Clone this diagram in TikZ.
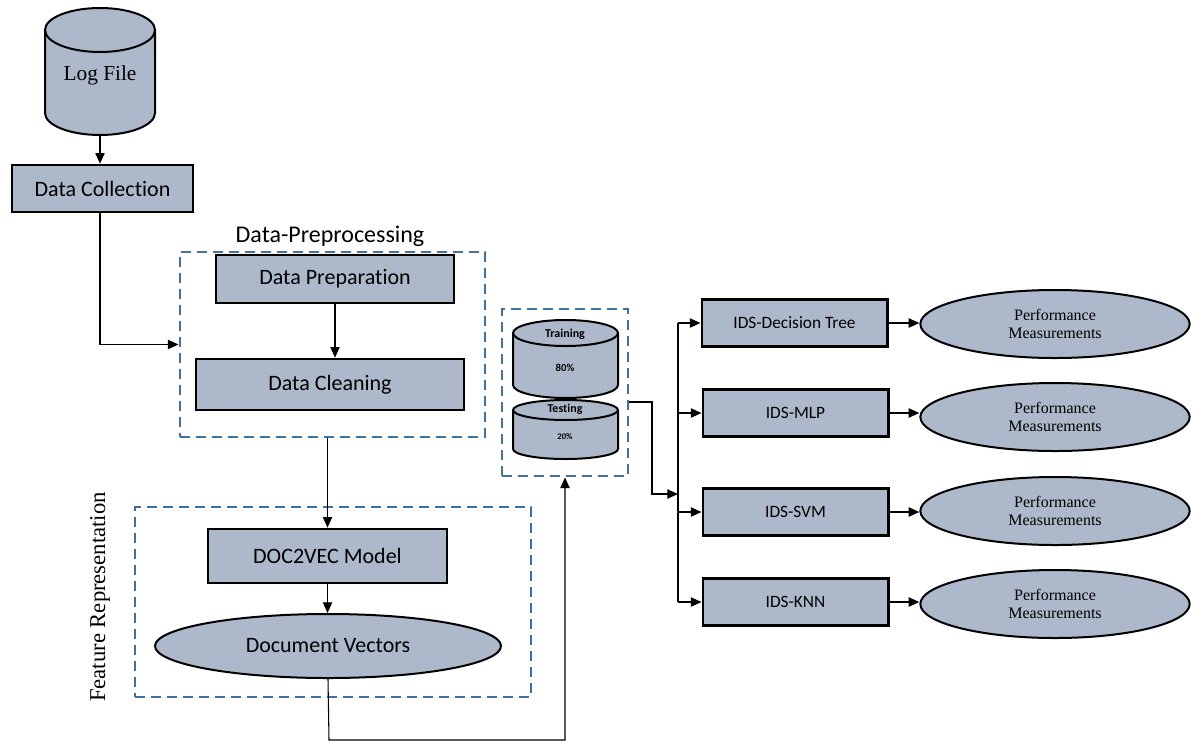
\documentclass[tikz,border=0pt]{standalone}
\usepackage{fontspec}
\setsansfont{Carlito}[Ligatures=NoCommon]
\setmainfont{Liberation Serif}
\usetikzlibrary{arrows.meta,shapes.geometric}
\definecolor{cfill}{HTML}{ADB9CA}
\definecolor{cdash}{HTML}{41719C}
\begin{document}
\begin{tikzpicture}[x=0.75pt,y=0.75pt,
 box/.style={draw=black, line width=2pt, fill=cfill, inner sep=0, font=\sffamily\fontsize{16.5}{19}\selectfont},
 ids/.style={box, font=\sffamily\fontsize{13}{15}\selectfont, minimum width=139pt, minimum height=35pt},
 ell/.style={ellipse, draw=black, line width=1.5pt, fill=cfill, inner sep=0},
 perf/.style={ell, minimum width=202pt, minimum height=51pt, font=\fontsize{12}{13}\selectfont, align=center},
 grp/.style={draw=cdash, line width=2.2pt, dash pattern=on 7.5pt off 4.5pt, inner sep=0},
 arr/.style={-{Triangle[length=8pt,width=7pt]}, line width=0.8pt},
 ln/.style={line width=0.8pt},
 cyl/.style={draw=black, line width=1.5pt, fill=cfill},
 lbl/.style={font=\sffamily\bfseries\fontsize{9}{10}\selectfont, inner sep=0}]
\useasboundingbox (0,0) rectangle (1191,-743);
\fill[white] (0,0) rectangle (1191,-743);

% Log file cylinder
\draw[cyl] (45,-30) -- (45,-113) arc[start angle=180,end angle=360,x radius=55,y radius=22] -- (155,-30) arc[start angle=0,end angle=180,x radius=55,y radius=22] -- cycle;
\draw[line width=1.5pt] (45,-30) arc[start angle=180,end angle=360,x radius=55,y radius=22];
\node[font=\fontsize{16}{18}\selectfont] (log) at (100,-75) {Log File};
\coordinate (logb) at (100,-135);

\node[box, minimum width=135.75pt, minimum height=35.25pt] (dc) at (102.5,-188.5) {Data Collection};

% Pre-processing group
\node[grp, minimum width=228.75pt, minimum height=138.75pt] (pre) at (332.5,-344.5) {};
\node[font=\sffamily\fontsize{18}{20}\selectfont] (prelab) at (330,-236) {Data-Preprocessing};
\node[box, minimum width=178.5pt, minimum height=36pt] (dp) at (335,-279) {Data Preparation};
\node[box, minimum width=201pt, minimum height=38.25pt] (dcl) at (330,-384.5) {Data Cleaning};

% Feature representation group
\node[grp, minimum width=297pt, minimum height=142.5pt] (feat) at (333,-602) {};
\node[rotate=90, font=\fontsize{17}{19}\selectfont] (felab) at (100,-597) {Feature Representation};
\node[box, minimum width=179.25pt, minimum height=40.5pt] (d2v) at (327.5,-556) {DOC2VEC Model};
\node[ell, minimum width=259.5pt, minimum height=48pt, font=\sffamily\fontsize{16.5}{19}\selectfont] (dv) at (328,-646) {Document Vectors};

% Split group
\node[grp, minimum width=94.5pt, minimum height=125.25pt] (split) at (565,-392.5) {};
\draw[cyl] (513,-333) -- (513,-385) arc[start angle=180,end angle=360,x radius=52.5,y radius=13] -- (618,-333) arc[start angle=0,end angle=180,x radius=52.5,y radius=13] -- cycle;
\draw[line width=1.5pt] (513,-333) arc[start angle=180,end angle=360,x radius=52.5,y radius=13];
\draw[cyl] (513,-410) -- (513,-449) arc[start angle=180,end angle=360,x radius=52.5,y radius=10] -- (618,-410) arc[start angle=0,end angle=180,x radius=52.5,y radius=10] -- cycle;
\draw[line width=1.5pt] (513,-410) arc[start angle=180,end angle=360,x radius=52.5,y radius=10];
\node[lbl] (tr) at (565,-334) {Training};
\node[lbl, font=\sffamily\bfseries\fontsize{8}{9}\selectfont] (p80) at (565,-368) {80\%};
\node[lbl] (te) at (565,-409) {Testing};
\node[lbl, font=\sffamily\bfseries\fontsize{6.5}{8}\selectfont] (p20) at (565,-437) {20\%};

% Classifiers
\node[ids] (dt) at (794.5,-323) {IDS-Decision Tree};
\node[ids] (mlp) at (795.5,-413) {IDS-MLP};
\node[ids] (svm) at (795.5,-512) {IDS-SVM};
\node[ids] (knn) at (795.5,-602) {IDS-KNN};
\node[perf] (p1) at (1055,-324) {Performance\\Measurements};
\node[perf] (p2) at (1055,-417) {Performance\\Measurements};
\node[perf] (p3) at (1055,-511) {Performance\\Measurements};
\node[perf] (p4) at (1055,-604) {Performance\\Measurements};

% Connectors
\draw[arr] (logb) -- (logb |- dc.north);
\draw[arr] (dc.south -| logb) |- (pre.west);
\draw[arr] (dp.south) -- (dp.south |- dcl.north);
\draw[arr] (pre.south -| d2v.north) -- (d2v.north);
\draw[arr] (d2v.south) -- (d2v.south |- dv.north);
\coordinate (dvb) at (329,-740);
\draw[arr] (dv.south) -- (dvb) -| (split.south);
\coordinate (bt) at (678,-323);
\coordinate (bb) at (678,-602);
\coordinate (bm) at (678,-494);
\coordinate (sk) at (652,-402);
\draw[arr] (split.east |- sk) -- (sk) |- (bm);
\draw[ln] (bt) -- (bb);
\draw[arr] (bt) -- (dt.west);
\draw[arr] (mlp.west -| bt) -- (mlp.west);
\draw[arr] (svm.west -| bt) -- (svm.west);
\draw[arr] (bb) -- (knn.west);
\draw[arr] (dt.east) -- (dt.east -| p1.west);
\draw[arr] (mlp.east) -- (mlp.east -| p2.west);
\draw[arr] (svm.east) -- (svm.east -| p3.west);
\draw[arr] (knn.east) -- (knn.east -| p4.west);
\end{tikzpicture}
\end{document}
